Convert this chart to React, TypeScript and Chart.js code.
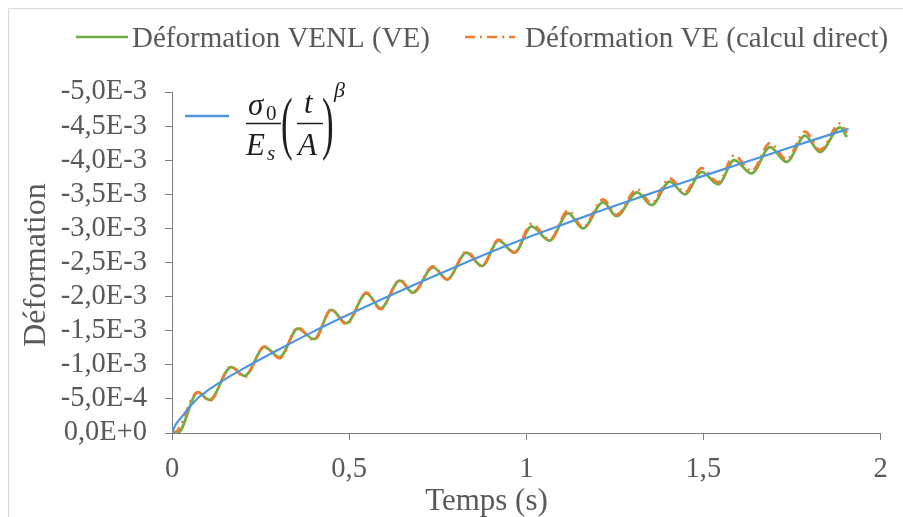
import React, { useEffect, useRef } from "react";
import { Chart, registerables } from "chart.js";

Chart.register(...registerables);

// ---------- data ----------
const venlTime = [
  0, 0.016, 0.073, 0.106, 0.167, 0.205, 0.261, 0.304, 0.355, 0.401, 0.45, 0.492, 0.549, 0.589,
  0.643, 0.68, 0.737, 0.777, 0.831, 0.875, 0.922, 0.967, 1.015, 1.066, 1.118, 1.16, 1.217, 1.255,
  1.313, 1.354, 1.405, 1.448, 1.495, 1.542, 1.587, 1.636, 1.688, 1.735, 1.787, 1.829, 1.886, 1.905,
];
const venlDef = [
  0, 0, -0.594e-3, -0.487e-3, -0.966e-3, -0.838e-3, -1.258e-3, -1.112e-3, -1.531e-3, -1.376e-3,
  -1.804e-3, -1.61e-3, -2.049e-3, -1.829e-3, -2.233e-3, -2.058e-3, -2.43e-3, -2.254e-3, -2.643e-3,
  -2.448e-3, -2.819e-3, -2.643e-3, -3.03e-3, -2.819e-3, -3.225e-3, -3.0e-3, -3.385e-3, -3.18e-3,
  -3.53e-3, -3.34e-3, -3.685e-3, -3.5e-3, -3.83e-3, -3.648e-3, -4.0e-3, -3.805e-3, -4.19e-3,
  -3.975e-3, -4.36e-3, -4.12e-3, -4.48e-3, -4.34e-3,
];

const veTime = [
  0, 0.016, 0.073, 0.106, 0.167, 0.205, 0.261, 0.304, 0.355, 0.401, 0.45, 0.492, 0.549, 0.589,
  0.643, 0.68, 0.737, 0.777, 0.831, 0.875, 0.922, 0.967, 1.015, 1.066, 1.118, 1.16, 1.217, 1.255,
  1.313, 1.354, 1.405, 1.448, 1.495, 1.542, 1.587, 1.636, 1.688, 1.735, 1.787, 1.829, 1.886, 1.905,
];
const veDef = [
  0, -0.04e-3, -0.6e-3, -0.47e-3, -0.975e-3, -0.82e-3, -1.27e-3, -1.095e-3, -1.545e-3, -1.36e-3,
  -1.815e-3, -1.595e-3, -2.06e-3, -1.815e-3, -2.245e-3, -2.05e-3, -2.445e-3, -2.25e-3, -2.66e-3,
  -2.45e-3, -2.835e-3, -2.65e-3, -3.065e-3, -2.83e-3, -3.26e-3, -3.02e-3, -3.425e-3, -3.2e-3,
  -3.575e-3, -3.37e-3, -3.735e-3, -3.53e-3, -3.885e-3, -3.68e-3, -4.07e-3, -3.84e-3, -4.25e-3,
  -4.01e-3, -4.42e-3, -4.15e-3, -4.54e-3, -4.4e-3,
];

const fitTime = [
  0, 0.01, 0.025, 0.05, 0.075, 0.1, 0.15, 0.2, 0.3, 0.4, 0.5, 0.6, 0.7, 0.8, 0.9, 1.0, 1.1, 1.2,
  1.3, 1.4, 1.5, 1.6, 1.7, 1.8, 1.91,
];
const fitDef = [
  0, -0.12e-3, -0.22e-3, -0.38e-3, -0.52e-3, -0.62e-3, -0.79e-3, -0.94e-3, -1.22e-3, -1.49e-3,
  -1.74e-3, -1.98e-3, -2.21e-3, -2.435e-3, -2.655e-3, -2.86e-3, -3.05e-3, -3.24e-3, -3.42e-3,
  -3.6e-3, -3.77e-3, -3.94e-3, -4.11e-3, -4.28e-3, -4.46e-3,
];

const seriesLabels = [
  "Déformation VENL (VE)",
  "Déformation VE (calcul direct)",
  "σ0/Es (t/A)^β",
];

const xTickValues = [0, 0.5, 1, 1.5, 2];
const xTickLabels = ["0", "0,5", "1", "1,5", "2"];
const yTickValues = [
  -5.0e-3, -4.5e-3, -4.0e-3, -3.5e-3, -3.0e-3, -2.5e-3, -2.0e-3, -1.5e-3, -1.0e-3, -0.5e-3, 0,
];
const yTickLabels = [
  "-5,0E-3", "-4,5E-3", "-4,0E-3", "-3,5E-3", "-3,0E-3", "-2,5E-3", "-2,0E-3", "-1,5E-3",
  "-1,0E-3", "-5,0E-4", "0,0E+0",
];
const xTitle = "Temps (s)";
const yTitle = "Déformation";

// ---------- styles ----------
const SERIF = "'Liberation Serif', 'Times New Roman', serif";
const GREEN = "#70AD47";
const ORANGE = "#ED7D31";
const BLUE = "#4f95dc";
const TEXT = "#595959";
const AXIS = "#7f7f7f";
const DASH = [10, 5, 2, 5];

const toPoints = (xs: number[], ys: number[]) => xs.map((x, i) => ({ x, y: ys[i] }));

const overlayPlugin = {
  id: "overlay",
  beforeDraw(chart: any) {
    const ctx = chart.ctx as CanvasRenderingContext2D;
    ctx.save();
    ctx.strokeStyle = "#d9d9d9";
    ctx.lineWidth = 1;
    ctx.beginPath();
    ctx.moveTo(8.5, 517);
    ctx.lineTo(8.5, 8.5);
    ctx.lineTo(903, 8.5);
    ctx.stroke();
    ctx.restore();
  },
  afterDraw(chart: any) {
    const ctx = chart.ctx as CanvasRenderingContext2D;
    const ds = chart.data.datasets;
    ctx.save();

    // legend row
    ctx.lineCap = "butt";
    ctx.lineWidth = 2.5;
    ctx.strokeStyle = ds[0].borderColor;
    ctx.setLineDash([]);
    ctx.beginPath();
    ctx.moveTo(76, 37);
    ctx.lineTo(128, 37);
    ctx.stroke();

    ctx.strokeStyle = ds[1].borderColor;
    ctx.setLineDash(DASH);
    ctx.beginPath();
    ctx.moveTo(465, 37);
    ctx.lineTo(515, 37);
    ctx.stroke();
    ctx.setLineDash([]);

    ctx.fillStyle = TEXT;
    ctx.font = `29px ${SERIF}`;
    ctx.textAlign = "left";
    ctx.textBaseline = "alphabetic";
    ctx.fillText(ds[0].label, 132, 47);
    ctx.fillText(ds[1].label, 525, 47);

    // formula legend entry
    ctx.strokeStyle = ds[2].borderColor;
    ctx.lineWidth = 2.5;
    ctx.beginPath();
    ctx.moveTo(185, 116);
    ctx.lineTo(229, 116);
    ctx.stroke();

    const F = "#1f1f1f";
    ctx.fillStyle = F;
    ctx.strokeStyle = F;
    ctx.font = `italic 31px ${SERIF}`;
    ctx.fillText("σ", 248, 115);
    ctx.font = `21px ${SERIF}`;
    ctx.fillText("0", 266, 120);
    ctx.font = `italic 31px ${SERIF}`;
    ctx.fillText("E", 246, 155);
    ctx.font = `italic 21px ${SERIF}`;
    ctx.fillText("s", 267, 160);
    ctx.lineWidth = 1.5;
    ctx.beginPath();
    ctx.moveTo(246, 123.5);
    ctx.lineTo(281, 123.5);
    ctx.stroke();

    // parentheses (narrowed tall glyphs)
    ctx.font = `70px ${SERIF}`;
    ctx.save();
    ctx.translate(281, 146);
    ctx.scale(0.5, 1);
    ctx.fillText("(", 0, 0);
    ctx.restore();
    ctx.save();
    ctx.translate(322, 146);
    ctx.scale(0.5, 1);
    ctx.fillText(")", 0, 0);
    ctx.restore();

    ctx.font = `italic 31px ${SERIF}`;
    ctx.fillText("t", 304, 113);
    ctx.fillText("A", 298, 155);
    ctx.beginPath();
    ctx.moveTo(297, 123.5);
    ctx.lineTo(323, 123.5);
    ctx.stroke();
    ctx.font = `italic 22px ${SERIF}`;
    ctx.fillText("β", 334, 97);

    // axis titles
    ctx.fillStyle = TEXT;
    ctx.font = `31px ${SERIF}`;
    ctx.textAlign = "center";
    ctx.fillText(xTitle, 486.5, 510);
    ctx.save();
    ctx.translate(45, 265);
    ctx.rotate(-Math.PI / 2);
    ctx.font = `32px ${SERIF}`;
    ctx.fillText(yTitle, 0, 0);
    ctx.restore();

    ctx.restore();
  },
};

export default function App() {
  const ref = useRef<HTMLCanvasElement>(null);

  useEffect(() => {
    document.body.style.margin = "0";
    const canvas = ref.current!;
    const chart = new Chart(canvas, {
      type: "line",
      data: {
        datasets: [
          {
            label: seriesLabels[0],
            data: toPoints(venlTime, venlDef),
            borderColor: GREEN,
            borderWidth: 2.75,
            pointRadius: 0,
            cubicInterpolationMode: "monotone",
            fill: false,
            order: 2,
          },
          {
            label: seriesLabels[1],
            data: toPoints(veTime, veDef),
            borderColor: ORANGE,
            borderWidth: 2.75,
            borderDash: DASH,
            pointRadius: 0,
            cubicInterpolationMode: "monotone",
            fill: false,
            order: 1,
          },
          {
            label: seriesLabels[2],
            data: toPoints(fitTime, fitDef),
            borderColor: BLUE,
            borderWidth: 2.2,
            pointRadius: 0,
            cubicInterpolationMode: "monotone",
            fill: false,
            order: 0,
          },
        ],
      },
      options: {
        responsive: false,
        animation: false,
        events: [],
        layout: { padding: { top: 92, right: 22.5, bottom: 0, left: 0 } },
        plugins: {
          legend: { display: false },
          tooltip: { enabled: false },
          title: { display: false },
        },
        scales: {
          x: {
            type: "linear",
            min: 0,
            max: 2,
            afterBuildTicks: (axis: any) => {
              axis.ticks = xTickValues.map((value) => ({ value }));
            },
            afterFit: (axis: any) => {
              axis.height = 84;
            },
            ticks: {
              autoSkip: false,
              maxRotation: 0,
              padding: 12,
              color: TEXT,
              font: { family: SERIF, size: 28.5 },
              callback: (_v: any, i: number) => xTickLabels[i],
            },
            grid: { drawOnChartArea: false, drawTicks: true, tickLength: 7, color: AXIS, lineWidth: 1 },
            border: { display: true, color: AXIS, width: 1 },
          },
          y: {
            type: "linear",
            min: -5e-3,
            max: 0,
            reverse: true,
            afterBuildTicks: (axis: any) => {
              axis.ticks = yTickValues.map((value) => ({ value }));
            },
            afterFit: (axis: any) => {
              axis.width = 172;
            },
            ticks: {
              autoSkip: false,
              padding: 18,
              color: TEXT,
              font: { family: SERIF, size: 28.5 },
              callback: (_v: any, i: number) => yTickLabels[i],
            },
            grid: { drawOnChartArea: false, drawTicks: true, tickLength: 7, color: AXIS, lineWidth: 1 },
            border: { display: true, color: AXIS, width: 1 },
          },
        },
      },
      plugins: [overlayPlugin],
    });
    return () => chart.destroy();
  }, []);

  return (
    <div style={{ width: 903, height: 517, background: "#ffffff" }}>
      <canvas ref={ref} width={903} height={517} style={{ display: "block", width: "903px", height: "517px" }} />
    </div>
  );
}
